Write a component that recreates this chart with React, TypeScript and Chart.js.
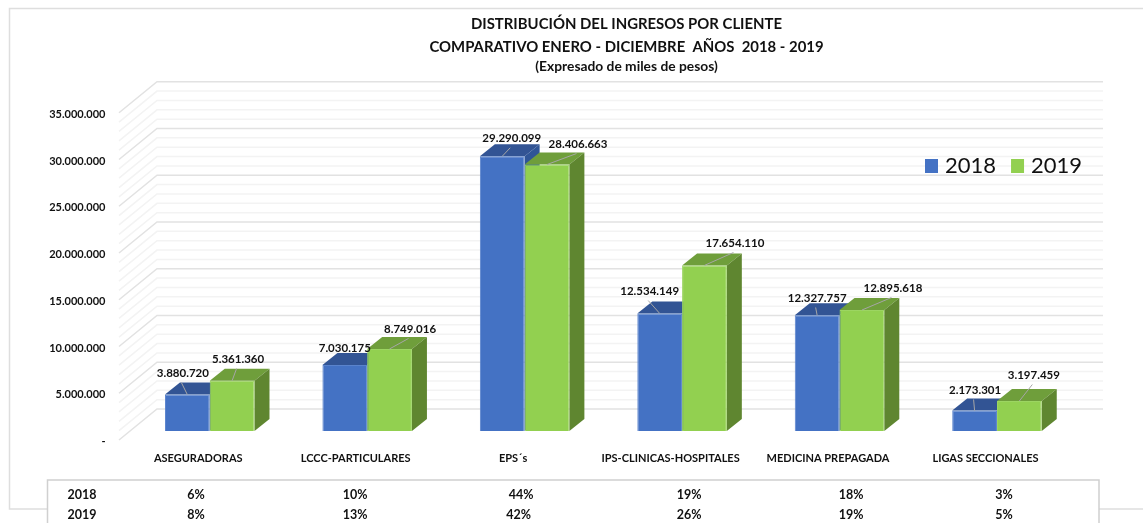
import React, { useEffect, useRef } from "react";
import { Chart, registerables } from "chart.js";

Chart.register(...registerables);

const categories = ["ASEGURADORAS", "LCCC-PARTICULARES", "EPS´s", "IPS-CLINICAS-HOSPITALES", "MEDICINA PREPAGADA", "LIGAS SECCIONALES"];
const series2018 = [3880720, 7030175, 29290099, 12534149, 12327757, 2173301];
const series2019 = [5361360, 8749016, 28406663, 17654110, 12895618, 3197459];
const share2018 = ["6%", "10%", "44%", "19%", "18%", "3%"];
const share2019 = ["8%", "13%", "42%", "26%", "19%", "5%"];
const axisTickValues = [0, 5000000, 10000000, 15000000, 20000000, 25000000, 30000000, 35000000];
const titleLines = ["DISTRIBUCIÓN DEL INGRESOS POR CLIENTE", "COMPARATIVO ENERO - DICIEMBRE  AÑOS  2018 - 2019"];
const subtitleLine = "(Expresado de miles de pesos)";

// Layout only: where each value label sits relative to the top of its bar.
const labelOffsets2018 = [[-4.5, -21.6], [0, -17], [9.5, -18], [-10, -22.4], [0, -17.4], [0.5, -20.6]];
const labelOffsets2019 = [[6, -21.7], [20.5, -20], [31, -20.5], [30.5, -22.4], [31, -22], [14.5, -26]];
const tableColumnX = [196, 355, 521, 689, 851, 1004];

const FONT = "Lato, Carlito, 'Noto Sans', sans-serif";
const BLUE = "#4472C4", BLUE_EDGE = "#5A83CC", BLUE_TOP = "#325494", BLUE_SIDE = "#2F5597";
const GREEN = "#92D050", GREEN_EDGE = "#9CD562", GREEN_TOP = "#6F9E3B", GREEN_SIDE = "#5F8630";
const DEPTH_X = 15, DEPTH_Y = 12;
const FLOOR_X = 38, FLOOR_Y = 31;
const WALL_LEFT = 119, WALL_RIGHT = 1103;
const PX_PER_UNIT = 9.35e-6, BAR_PX_PER_UNIT = 9.38e-6;
const AREA_TOP = 82, LABEL_DROP = 1.5, AREA_BOTTOM = 440 + LABEL_DROP, BAR_ZERO = 431;

const fmt = (v: number) => String(Math.round(v)).replace(/\B(?=(\d{3})+(?!\d))/g, ".");

const wallPlugin = {
  id: "wall",
  beforeDraw(chart: any) {
    const { ctx } = chart;
    const sc = chart.scales.yTicks;
    ctx.save();
    // outer frame
    ctx.strokeStyle = "#DEDEDE";
    ctx.lineWidth = 1.5;
    ctx.beginPath();
    ctx.moveTo(1143, 8.5);
    ctx.lineTo(9.5, 8.5);
    ctx.lineTo(9.5, 509);
    ctx.lineTo(47, 509);
    ctx.moveTo(1099, 509);
    ctx.lineTo(1143, 509);
    ctx.stroke();
    // floor and back wall lines
    for (let v = 0; v <= 35000000; v += 1000000) {
      const major = v % 5000000 === 0;
      const y = sc.getPixelForValue(v) - LABEL_DROP;
      ctx.strokeStyle = major ? "#E2E2E2" : "#F3F3F3";
      ctx.lineWidth = 1.5;
      ctx.beginPath();
      ctx.moveTo(WALL_LEFT, y);
      ctx.lineTo(WALL_LEFT + FLOOR_X, y - FLOOR_Y);
      ctx.lineTo(WALL_RIGHT, y - FLOOR_Y);
      ctx.stroke();
    }
    ctx.restore();
  },
  beforeDatasetsDraw(chart: any) {
    const { ctx } = chart;
    const colours = [[BLUE_TOP, BLUE_SIDE], [GREEN_TOP, GREEN_SIDE]];
    ctx.save();
    categories.forEach((_, i) => {
      [0, 1].forEach((d) => {
        const el = chart.getDatasetMeta(d).data[i];
        const l = el.x - el.width / 2, r = el.x + el.width / 2, t = el.y, b = el.base;
        ctx.fillStyle = colours[d][0];
        ctx.beginPath();
        ctx.moveTo(l, t);
        ctx.lineTo(l + DEPTH_X, t - DEPTH_Y);
        ctx.lineTo(r + DEPTH_X, t - DEPTH_Y);
        ctx.lineTo(r, t);
        ctx.closePath();
        ctx.fill();
        ctx.fillStyle = colours[d][1];
        ctx.beginPath();
        ctx.moveTo(r, t);
        ctx.lineTo(r + DEPTH_X, t - DEPTH_Y);
        ctx.lineTo(r + DEPTH_X, b - DEPTH_Y);
        ctx.lineTo(r, b);
        ctx.closePath();
        ctx.fill();
      });
    });
    ctx.restore();
  },
  afterDatasetsDraw(chart: any) {
    const { ctx } = chart;
    const offsets = [labelOffsets2018, labelOffsets2019];
    const values = [series2018, series2019];
    ctx.save();
    ctx.font = `bold 11.5px ${FONT}`;
    ctx.textAlign = "center";
    ctx.textBaseline = "middle";
    [0, 1].forEach((d) => {
      chart.getDatasetMeta(d).data.forEach((el: any, i: number) => {
        const [dx, dy] = offsets[d][i];
        const lx = el.x + dx, ly = el.y + dy;
        if (!(d === 0 && i === 1)) {
          ctx.strokeStyle = "#A6A6A6";
          ctx.lineWidth = 1;
          ctx.beginPath();
          ctx.moveTo(lx - 1.5, ly + 9.5);
          ctx.lineTo(el.x, el.y);
          ctx.stroke();
        }
        ctx.fillStyle = "#111111";
        ctx.fillText(fmt(values[d][i]), lx, ly);
      });
    });
    ctx.restore();
  },
  afterDraw(chart: any) {
    const { ctx } = chart;
    ctx.save();
    ctx.strokeStyle = "#D0D0D0";
    ctx.lineWidth = 1.5;
    ctx.beginPath();
    ctx.moveTo(47.5, 523);
    ctx.lineTo(47.5, 480);
    ctx.lineTo(1099, 480);
    ctx.lineTo(1099, 523);
    ctx.stroke();
    ctx.font = `bold 12.5px ${FONT}`;
    ctx.fillStyle = "#111111";
    ctx.textAlign = "center";
    ctx.textBaseline = "middle";
    ctx.fillText("2018", 82, 495);
    ctx.fillText("2019", 82, 515);
    share2018.forEach((s, i) => ctx.fillText(s, tableColumnX[i], 495));
    share2019.forEach((s, i) => ctx.fillText(s, tableColumnX[i] - (i === 2 ? 2.5 : 0), 515));
    ctx.restore();
  },
  beforeLayout(chart: any) {
    const lg = chart.legend;
    if (lg && !lg.__flat) {
      const fit = lg.fit.bind(lg);
      lg.fit = () => {
        fit();
        lg.height = 0;
      };
      lg.__flat = true;
    }
  },
  afterLayout(chart: any) {
    const lg = chart.legend;
    lg.left = 910;
    lg.top = 136;
    lg.right = 1143;
    lg.bottom = 196;
  },
};

export default function App() {
  const ref = useRef<HTMLCanvasElement>(null);
  useEffect(() => {
    const chart = new Chart(ref.current as HTMLCanvasElement, {
      type: "bar",
      data: {
        labels: categories,
        datasets: [
          { label: "2018", data: series2018, backgroundColor: BLUE, borderColor: BLUE_EDGE, borderWidth: 1, yAxisID: "y", categoryPercentage: 0.5686, barPercentage: 1 },
          { label: "2019", data: series2019, backgroundColor: GREEN, borderColor: GREEN_EDGE, borderWidth: 1, yAxisID: "y", categoryPercentage: 0.5686, barPercentage: 1 },
        ],
      },
      options: {
        responsive: false,
        animation: false,
        devicePixelRatio: 1,
        layout: { padding: { left: 40, right: -70, top: 0, bottom: 0 } },
        plugins: {
          title: {
            display: true,
            text: titleLines,
            color: "#111111",
            font: { family: FONT, size: 14.9, weight: "bold", lineHeight: 23 / 14.9 },
            padding: { top: 12.5, bottom: 0 },
          },
          subtitle: {
            display: true,
            text: subtitleLine,
            color: "#111111",
            font: { family: FONT, size: 13.8, weight: "bold", lineHeight: 16 / 13.8 },
            padding: { top: 0.5, bottom: 7 },
          },
          legend: {
            display: true,
            position: "top",
            align: "start",
            labels: {
              color: "#111111",
              font: { family: FONT, size: 22 },
              boxWidth: 5,
              boxHeight: 6,
              padding: 19,
              generateLabels(c: any) {
                return Chart.defaults.plugins.legend.labels.generateLabels(c).map((it: any) => ({
                  ...it,
                  lineWidth: 8,
                  strokeStyle: it.fillStyle,
                }));
              },
            },
          },
          tooltip: { enabled: false },
        },
        scales: {
          x: {
            type: "category",
            position: "bottom",
            grid: { display: false, drawTicks: false },
            border: { display: false },
            ticks: {
              color: "#111111",
              font: { family: FONT, size: 11, weight: "bold" },
              padding: 10,
              labelOffset: -11.5,
              maxRotation: 0,
              autoSkip: false,
            },
            afterFit(s: any) {
              s.height = 523 - AREA_BOTTOM;
            },
          },
          yTicks: {
            type: "linear",
            position: "left",
            min: 0,
            max: (AREA_BOTTOM - AREA_TOP) / PX_PER_UNIT,
            grid: { display: false, drawTicks: false },
            border: { display: false },
            afterBuildTicks(s: any) {
              s.ticks = axisTickValues.map((value) => ({ value }));
            },
            ticks: {
              autoSkip: false,
              color: "#111111",
              font: { family: FONT, size: 11, weight: "bold" },
              padding: 25.5,
              callback: (v: any) => (v === 0 ? "-" : fmt(v)),
            },
            afterFit(s: any) {
              s.width = 91;
            },
          },
          y: {
            type: "linear",
            position: "right",
            min: -(AREA_BOTTOM - BAR_ZERO) / BAR_PX_PER_UNIT,
            max: (BAR_ZERO - AREA_TOP) / BAR_PX_PER_UNIT,
            grid: { display: false, drawTicks: false },
            border: { display: false },
            ticks: { display: false },
            afterFit(s: any) {
              s.width = 137.3;
            },
          },
        },
      } as any,
      plugins: [wallPlugin as any],
    });
    return () => chart.destroy();
  }, []);
  return (
    <div style={{ position: "fixed", left: 0, top: 0, width: 1143, height: 523, background: "#fff" }}>
      <canvas ref={ref} width={1143} height={523} style={{ display: "block" }} />
    </div>
  );
}
